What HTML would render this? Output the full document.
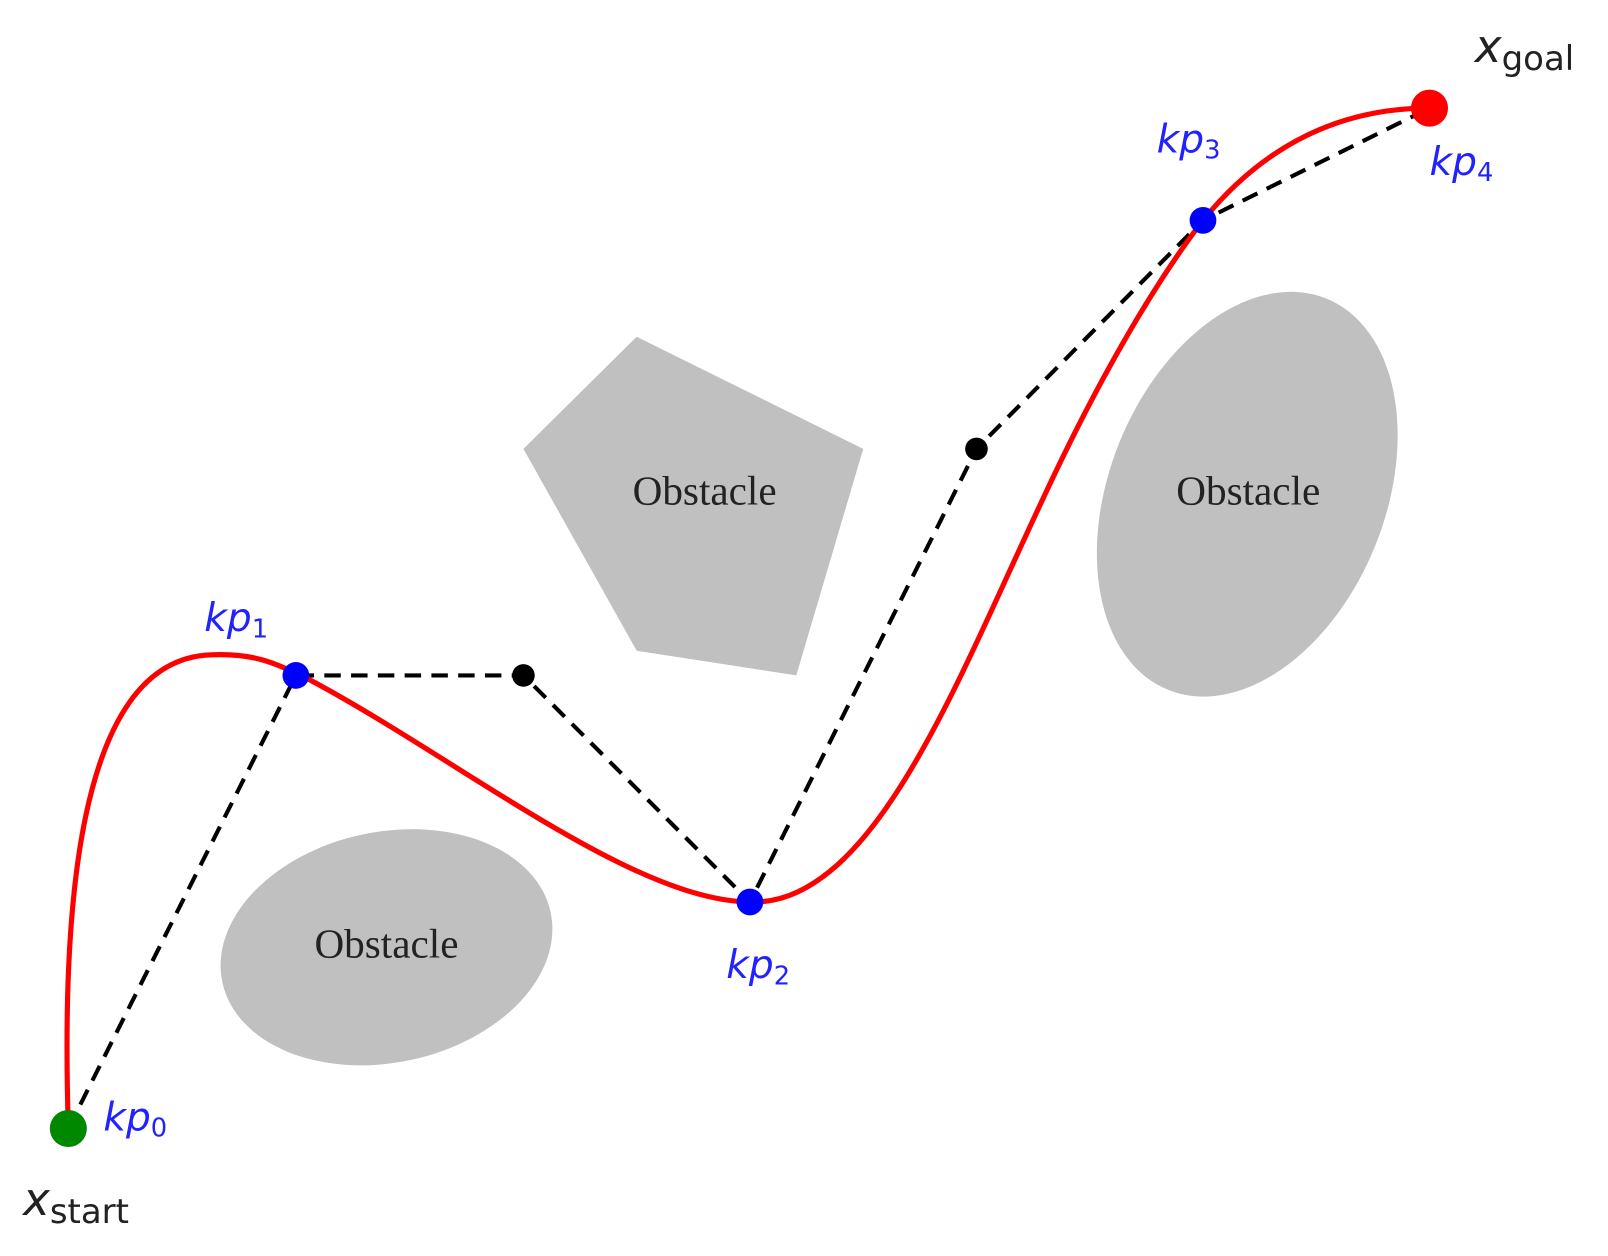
<!DOCTYPE html>
<html><head><style>html,body{margin:0;padding:0;background:#fff}</style></head>
<body>
<svg width="1608" height="1251" viewBox="0 0 1561 1215" xmlns="http://www.w3.org/2000/svg">
<rect width="1561" height="1215" fill="#fff"/>
<polygon points="618,327 838,436 773,656 618,632 508,436" fill="#c0c0c0"/>
<ellipse cx="1211" cy="480" rx="134" ry="205" transform="rotate(22 1211 480)" fill="#c0c0c0"/>
<ellipse cx="375" cy="920" rx="163" ry="112" transform="rotate(-12 375 920)" fill="#c0c0c0"/>
<g font-family="Liberation Serif, serif" font-size="40" fill="#222" text-anchor="middle">
<text x="684" y="490">Obstacle</text>
<text x="1212" y="490">Obstacle</text>
<text x="375" y="930">Obstacle</text>
</g>
<polyline points="66,1096 287,656 508,656 728,876 948,436 1168,214 1388,105" fill="none" stroke="#000" stroke-width="4" stroke-dasharray="16,10"/>
<path d="M66,1096 C60,900 70,640 205,636 C250,634 270,646 300,660 C450,740 620,880 735,876 C850,872 930,660 1010,490 C1070,360 1125,270 1168,214 C1220,150 1290,105 1388,105" fill="none" stroke="#f00" stroke-width="5"/>
<circle cx="508" cy="656" r="11" fill="#000"/>
<circle cx="948" cy="436" r="11" fill="#000"/>
<circle cx="287" cy="656" r="13" fill="#00f"/>
<circle cx="728" cy="876" r="13" fill="#00f"/>
<circle cx="1168" cy="214" r="13" fill="#00f"/>
<circle cx="66" cy="1096" r="18" fill="#080"/>
<circle cx="1388" cy="105" r="18" fill="#f00"/>
<g font-family="DejaVu Sans, sans-serif" font-style="italic" font-size="38" fill="#22f">
<text x="100" y="1098">kp<tspan font-size="25" font-style="normal" dy="6">0</tspan></text>
<text x="198" y="613">kp<tspan font-size="25" font-style="normal" dy="6">1</tspan></text>
<text x="705" y="950">kp<tspan font-size="25" font-style="normal" dy="6">2</tspan></text>
<text x="1123" y="148">kp<tspan font-size="25" font-style="normal" dy="6">3</tspan></text>
<text x="1388" y="170">kp<tspan font-size="25" font-style="normal" dy="6">4</tspan></text>
</g>
<g font-family="DejaVu Sans, sans-serif" font-size="44" fill="#222">
<text x="22" y="1180" font-style="italic">x<tspan font-style="normal" font-size="33" dy="8">start</tspan></text>
<text x="1432" y="60" font-style="italic">x<tspan font-style="normal" font-size="33" dy="8">goal</tspan></text>
</g>
</svg>
</body></html>
